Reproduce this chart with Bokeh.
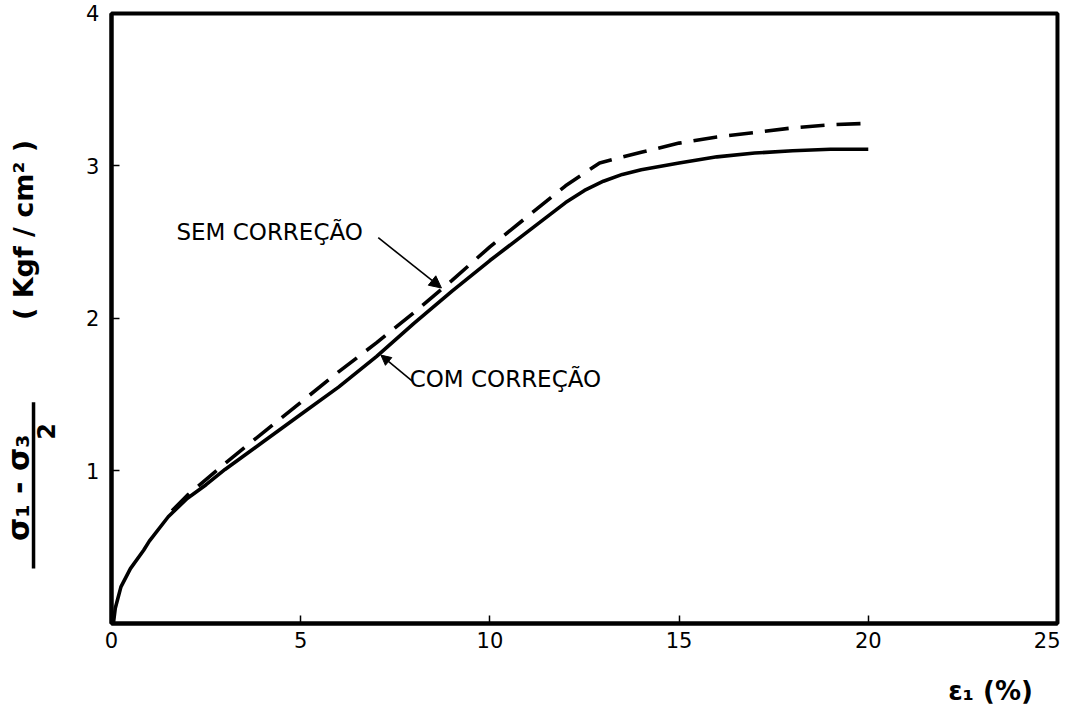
import math
from bokeh.plotting import figure
from bokeh.models import Range1d, Label, Arrow, NormalHead, FixedTicker, BoxAnnotation
from bokeh.embed import file_html
from bokeh.resources import INLINE

# ---- data ----
com_x = [0.05, 0.1, 0.25, 0.5, 0.85, 1.0, 1.5, 2.0, 2.5, 3.0, 3.5, 4.0, 5.0, 6.0, 7.0, 8.0, 9.0,
         10.0, 11.0, 12.0, 12.5, 13.0, 13.5, 14.0, 15.0, 16.0, 17.0, 18.0, 19.0, 20.0]
com_y = [0.0, 0.10, 0.24, 0.36, 0.48, 0.54, 0.70, 0.82, 0.91, 1.01, 1.10, 1.19, 1.37, 1.55, 1.75,
         1.97, 2.18, 2.38, 2.57, 2.76, 2.84, 2.90, 2.945, 2.975, 3.02, 3.06, 3.085, 3.10, 3.11, 3.11]

sem_x = [1.6, 2.0, 3.0, 4.0, 5.0, 6.0, 7.0, 8.0, 9.0, 10.0, 11.0, 12.0, 12.9,
         14.0, 15.0, 16.0, 17.0, 18.0, 19.0, 20.0]
sem_y = [0.74, 0.84, 1.05, 1.25, 1.45, 1.65, 1.84, 2.04, 2.25, 2.47, 2.67, 2.87, 3.02,
         3.09, 3.15, 3.19, 3.22, 3.25, 3.27, 3.28]

x_ticks = [0, 5, 10, 15, 20, 25]
y_ticks = [0, 1, 2, 3, 4]

label_sem = "SEM CORREÇÃO"
label_com = "COM    CORREÇÃO"
x_title = "ε₁ (%)"
y_num = "σ₁ - σ₃"
y_den = "2"
y_units = "( Kgf / cm² )"

FONT = "DejaVu Sans"

XMIN, XMAX = x_ticks[0], x_ticks[-1]
YMIN, YMAX = y_ticks[0], y_ticks[-1]

p = figure(width=1060, height=710, output_backend="svg", toolbar_location=None,
           x_range=Range1d(-2.933, 25.080), y_range=Range1d(-0.5705, 4.0852),
           min_border_left=0, min_border_right=0, min_border_top=0, min_border_bottom=0)
p.background_fill_color = "white"
p.border_fill_color = "white"
p.outline_line_color = None
p.xgrid.visible = False
p.ygrid.visible = False

for ax in (p.xaxis, p.yaxis):
    ax.axis_line_color = "black"
    ax.axis_line_width = 4
    ax.major_tick_in = 8
    ax.major_tick_out = 0
    ax.major_tick_line_width = 1.5
    ax.minor_tick_line_color = None
    ax.major_label_text_font = FONT
    ax.major_label_text_font_size = "21px"
    ax.major_label_text_color = "black"
    ax.fixed_location = 0

p.xaxis.bounds = (XMIN, XMAX)
p.yaxis.bounds = (YMIN, YMAX)
p.xaxis.ticker = FixedTicker(ticks=x_ticks)
p.yaxis.ticker = FixedTicker(ticks=y_ticks)
p.yaxis.major_label_overrides = {0: ""}
p.xaxis.major_label_standoff = 9
p.yaxis.major_label_standoff = 12

# frame box of the chart
p.add_layout(BoxAnnotation(left=XMIN, right=XMAX, bottom=YMIN, top=YMAX,
                           fill_color=None, fill_alpha=0, line_color="black",
                           line_alpha=1.0, line_width=4))

# curves
p.line(com_x, com_y, line_color="black", line_width=3.6, line_join="round")
p.line(sem_x, sem_y, line_color="black", line_width=3.6, line_dash="24 12")

# curve labels
p.add_layout(Label(x=4.18, y=2.57, text=label_sem, text_font=FONT, text_font_size="23px",
                   text_align="center", text_baseline="middle", text_color="black"))
p.add_layout(Label(x=10.70, y=1.60, text=label_com, text_font=FONT, text_font_size="23px",
                   text_align="center", text_baseline="middle", text_color="black"))

# leaders
p.add_layout(Arrow(end=NormalHead(size=12, fill_color="black", line_color="black"),
                   x_start=7.05, y_start=2.53, x_end=8.72, y_end=2.20,
                   line_color="black", line_width=1.6))
p.add_layout(Arrow(end=NormalHead(size=10, fill_color="black", line_color="black"),
                   x_start=7.95, y_start=1.59, x_end=7.12, y_end=1.76,
                   line_color="black", line_width=1.6))

# axis titles
p.add_layout(Label(x=23.23, y=-0.44, text=x_title, text_font=FONT, text_font_size="26px",
                   text_font_style="bold", text_align="center", text_baseline="middle",
                   text_color="black"))
p.add_layout(Label(x=-2.46, y=0.89, text=y_num, text_font=FONT, text_font_size="30px",
                   text_font_style="bold", text_align="center", text_baseline="middle",
                   angle=math.pi / 2, text_color="black"))
p.add_layout(Arrow(end=None, x_start=-2.06, y_start=0.36, x_end=-2.06, y_end=1.45,
                   line_color="black", line_width=3.5))
p.add_layout(Label(x=-1.74, y=1.26, text=y_den, text_font=FONT, text_font_size="24px",
                   text_font_style="bold", text_align="center", text_baseline="middle",
                   angle=math.pi / 2, text_color="black"))
p.add_layout(Label(x=-2.33, y=2.58, text=y_units, text_font=FONT, text_font_size="27px",
                   text_font_style="bold", text_align="center", text_baseline="middle",
                   angle=math.pi / 2, text_color="black"))

open("out.html", "w").write(file_html(p, INLINE))
